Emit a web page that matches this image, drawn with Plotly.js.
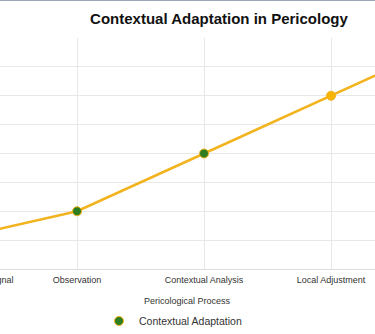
<!DOCTYPE html>
<html>
<head>
<meta charset="utf-8">
<script src="https://cdn.plot.ly/plotly-3.0.1.min.js"></script>
<style>
  html, body { margin: 0; padding: 0; background: #ffffff; }
  #wrap { position: absolute; left: 0; top: 0; width: 375px; height: 334px; overflow: hidden; background: #fff; }
  #chart { position: absolute; left: -150px; top: 0; width: 688px; height: 334px; }
  #topline { position: absolute; left: 0; top: 0; width: 375px; height: 1px; background: #9aa7b4; z-index: 5; }
</style>
</head>
<body>
<div id="wrap">
  <div id="chart"></div>
  <div id="topline"></div>
</div>
<script>
// Data
const categories = ["Environmental Feedback Signal", "Observation", "Contextual Analysis", "Local Adjustment", "Global Integration"];
const adaptationValues = [10, 20, 40, 60, 80];
const markerColors = ["#2e7d1f", "#2e7d1f", "#2e7d1f", "#f7b500", "#f7b500"];
const seriesName = "Contextual Adaptation";
const chartTitle = "Contextual Adaptation in Pericology";
const xTitle = "Pericological Process";

const FONT = "Liberation Sans, Arial, sans-serif";
const LINE = "#f2b31e";

const traces = [
  {
    type: "scatter",
    mode: "lines+markers",
    x: categories,
    y: adaptationValues,
    name: seriesName,
    showlegend: false,
    line: { color: LINE, width: 2.5 },
    marker: { size: 9, color: markerColors, line: { color: LINE, width: 1 } },
    cliponaxis: false
  },
  {
    type: "scatter",
    mode: "markers",
    x: [null],
    y: [null],
    name: seriesName,
    showlegend: true,
    marker: { size: 9, color: markerColors[0], line: { color: LINE, width: 1 } }
  }
];

const layout = {
  width: 688,
  height: 334,
  margin: { l: 66, r: 80, t: 38, b: 65, autoexpand: false },
  paper_bgcolor: "#ffffff",
  plot_bgcolor: "#ffffff",
  font: { family: FONT, color: "#333" },
  title: {
    text: chartTitle,
    font: { family: FONT, size: 15, color: "#111", weight: "bold" },
    xref: "paper",
    x: 0.559,
    xanchor: "center",
    yref: "container",
    y: 1 - 19 / 334,
    yanchor: "middle"
  },
  xaxis: {
    type: "category",
    range: [-0.268, 4],
    automargin: false,
    showgrid: true,
    gridcolor: "#e8e8e8",
    showline: true,
    linecolor: "#dddddd",
    linewidth: 1,
    ticks: "",
    tickfont: { family: FONT, size: 9, color: "#333" },
    ticklabelstandoff: 2,
    title: { text: xTitle, font: { family: FONT, size: 9, color: "#333" }, standoff: 13 }
  },
  yaxis: {
    range: [0, 80],
    dtick: 10,
    automargin: false,
    showgrid: true,
    gridcolor: "#e8e8e8",
    zeroline: false,
    showline: false,
    ticks: "",
    tickfont: { family: FONT, size: 9, color: "#333" }
  },
  showlegend: true,
  legend: {
    orientation: "h",
    x: (99 + 84) / 542,
    xanchor: "left",
    y: (269 - 321) / 231,
    yanchor: "middle",
    font: { family: FONT, size: 10.5, color: "#333" },
    bgcolor: "rgba(0,0,0,0)"
  }
};

Plotly.newPlot("chart", traces, layout, { displayModeBar: false, staticPlot: true });
</script>
</body>
</html>
